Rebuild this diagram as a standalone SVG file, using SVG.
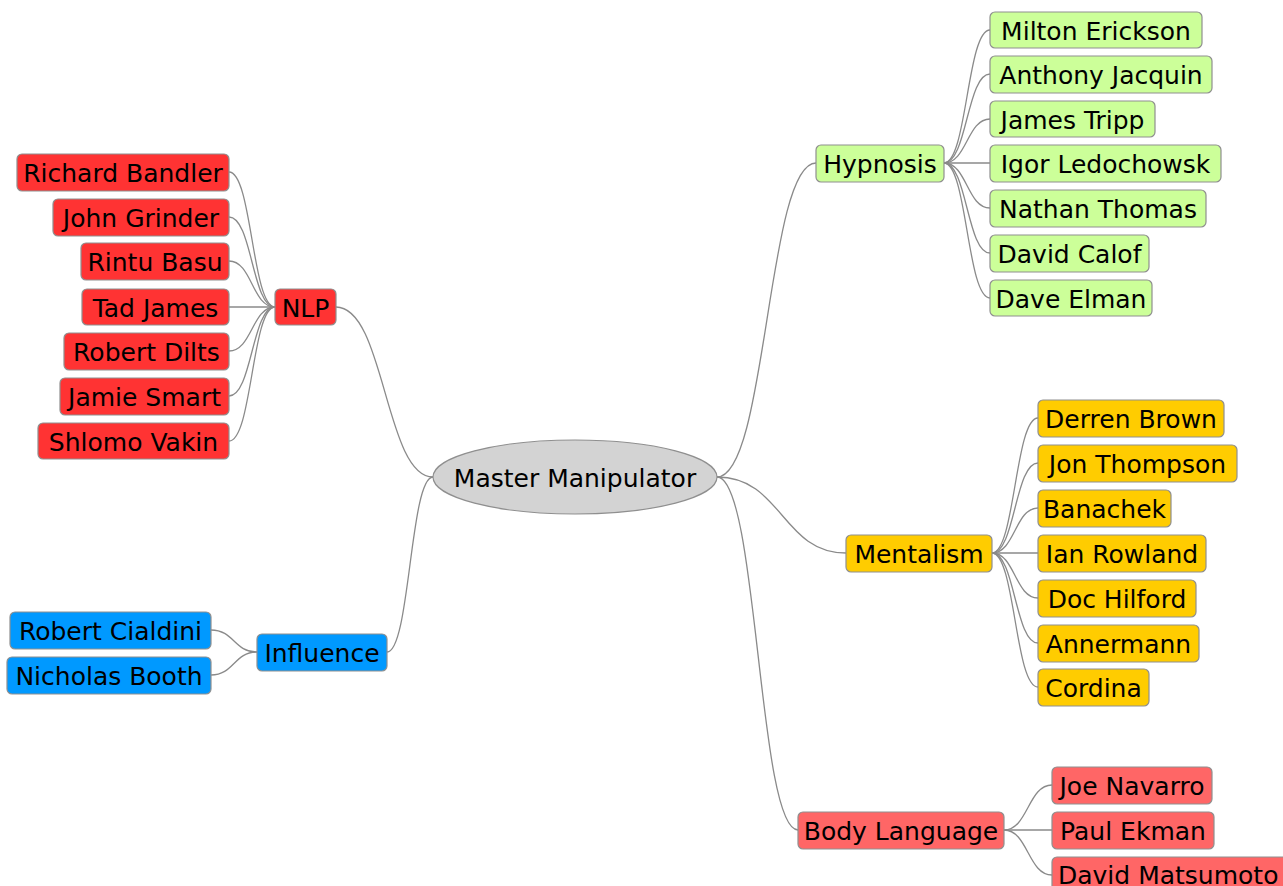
<svg xmlns="http://www.w3.org/2000/svg" width="1283" height="886" viewBox="0 0 1283 886">
<style>
.n rect{stroke:#8f8f8f;stroke-width:1.2}
text{font-family:"DejaVu Sans","Liberation Sans",sans-serif;font-size:25px;fill:#000;text-anchor:middle}
.c path{fill:none;stroke:#8a8a8a;stroke-width:1.3}
.red rect{fill:#ff3333}
.grn rect{fill:#ccff99}
.yel rect{fill:#ffcc00}
.blu rect{fill:#0099ff}
.pnk rect{fill:#ff6666}
</style>
<rect x="0" y="0" width="1283" height="886" fill="#ffffff"/>
<g class="c" id="connectors">
<path d="M717,477 C767,477 767,163 816,163"/>
<path d="M717,477 C782,477 782,553 846,553"/>
<path d="M717,477 C758,477 758,830 798,830"/>
<path d="M433,477 C385,477 385,307 336,307"/>
<path d="M433,477 C410,477 410,652 387,652"/>
<path d="M944,163 C967,163 967,30 990,30"/>
<path d="M944,163 C967,163 967,74 990,74"/>
<path d="M944,163 C967,163 967,119 990,119"/>
<path d="M944,163 L990,163"/>
<path d="M944,163 C967,163 967,208 990,208"/>
<path d="M944,163 C967,163 967,253 990,253"/>
<path d="M944,163 C967,163 967,298 990,298"/>
<path d="M992,553 C1015,553 1015,418 1038,418"/>
<path d="M992,553 C1015,553 1015,463 1038,463"/>
<path d="M992,553 C1015,553 1015,508 1038,508"/>
<path d="M992,553 L1038,553"/>
<path d="M992,553 C1015,553 1015,598 1038,598"/>
<path d="M992,553 C1015,553 1015,643 1038,643"/>
<path d="M992,553 C1015,553 1015,687 1038,687"/>
<path d="M1004,830 C1028,830 1028,785 1052,785"/>
<path d="M1004,830 L1052,830"/>
<path d="M1004,830 C1028,830 1028,875 1052,875"/>
<path d="M275,307 C252,307 252,172 229,172"/>
<path d="M275,307 C252,307 252,217 229,217"/>
<path d="M275,307 C252,307 252,261 229,261"/>
<path d="M275,307 L229,307"/>
<path d="M275,307 C252,307 252,351 229,351"/>
<path d="M275,307 C252,307 252,396 229,396"/>
<path d="M275,307 C252,307 252,441 229,441"/>
<path d="M257,652 C234,652 234,630 211,630"/>
<path d="M257,652 C234,652 234,675 211,675"/>
</g>
<g id="master"><ellipse cx="575" cy="477" rx="142" ry="37" fill="#d3d3d3" stroke="#8f8f8f" stroke-width="1.2"/><text x="575" y="487">Master Manipulator</text></g>

<g id="nlp" class="n red"><rect x="275" y="289" width="61" height="36" rx="5"/><text x="305.5" y="317">NLP</text></g>
<g id="bandler" class="n red"><rect x="17" y="154" width="212" height="37" rx="5"/><text x="123" y="182">Richard Bandler</text></g>
<g id="grinder" class="n red"><rect x="53" y="199" width="176" height="37" rx="5"/><text x="141" y="227">John Grinder</text></g>
<g id="basu" class="n red"><rect x="81" y="243" width="148" height="37" rx="5"/><text x="155" y="271">Rintu Basu</text></g>
<g id="tadjames" class="n red"><rect x="82" y="289" width="147" height="36" rx="5"/><text x="155.5" y="317">Tad James</text></g>
<g id="dilts" class="n red"><rect x="64" y="333" width="165" height="37" rx="5"/><text x="146.5" y="361">Robert Dilts</text></g>
<g id="smart" class="n red"><rect x="60" y="378" width="169" height="37" rx="5"/><text x="144.5" y="406">Jamie Smart</text></g>
<g id="vakin" class="n red"><rect x="38" y="423" width="191" height="36" rx="5"/><text x="133.5" y="451">Shlomo Vakin</text></g>

<g id="influence" class="n blu"><rect x="257" y="634" width="130" height="37" rx="5"/><text x="322" y="662">Influence</text></g>
<g id="cialdini" class="n blu"><rect x="10" y="612" width="201" height="37" rx="5"/><text x="110.5" y="640">Robert Cialdini</text></g>
<g id="booth" class="n blu"><rect x="7" y="657" width="204" height="37" rx="5"/><text x="109" y="685">Nicholas Booth</text></g>

<g id="hypnosis" class="n grn"><rect x="816" y="145" width="128" height="37" rx="5"/><text x="880" y="173">Hypnosis</text></g>
<g id="erickson" class="n grn"><rect x="990" y="12" width="212" height="36" rx="5"/><text x="1096" y="40">Milton Erickson</text></g>
<g id="jacquin" class="n grn"><rect x="990" y="56" width="222" height="37" rx="5"/><text x="1101" y="84">Anthony Jacquin</text></g>
<g id="tripp" class="n grn"><rect x="990" y="101" width="165" height="36" rx="5"/><text x="1072.5" y="129">James Tripp</text></g>
<g id="igor" class="n grn"><rect x="990" y="145" width="231" height="37" rx="5"/><text x="1105.5" y="173">Igor Ledochowsk</text></g>
<g id="nathan" class="n grn"><rect x="990" y="190" width="216" height="37" rx="5"/><text x="1098" y="218">Nathan Thomas</text></g>
<g id="calof" class="n grn"><rect x="990" y="235" width="159" height="37" rx="5"/><text x="1069.5" y="263">David Calof</text></g>
<g id="elman" class="n grn"><rect x="990" y="280" width="162" height="36" rx="5"/><text x="1071" y="308">Dave Elman</text></g>

<g id="mentalism" class="n yel"><rect x="846" y="535" width="146" height="37" rx="5"/><text x="919" y="563">Mentalism</text></g>
<g id="derren" class="n yel"><rect x="1038" y="400" width="186" height="37" rx="5"/><text x="1131" y="428">Derren Brown</text></g>
<g id="jon" class="n yel"><rect x="1038" y="445" width="199" height="37" rx="5"/><text x="1137.5" y="473">Jon Thompson</text></g>
<g id="banachek" class="n yel"><rect x="1038" y="490" width="133" height="37" rx="5"/><text x="1104.5" y="518">Banachek</text></g>
<g id="rowland" class="n yel"><rect x="1038" y="535" width="168" height="37" rx="5"/><text x="1122" y="563">Ian Rowland</text></g>
<g id="hilford" class="n yel"><rect x="1038" y="580" width="158" height="37" rx="5"/><text x="1117" y="608">Doc Hilford</text></g>
<g id="annermann" class="n yel"><rect x="1038" y="625" width="161" height="37" rx="5"/><text x="1118.5" y="653">Annermann</text></g>
<g id="cordina" class="n yel"><rect x="1038" y="669" width="111" height="37" rx="5"/><text x="1093.5" y="697">Cordina</text></g>

<g id="body" class="n pnk"><rect x="798" y="812" width="206" height="37" rx="5"/><text x="901" y="840">Body Language</text></g>
<g id="navarro" class="n pnk"><rect x="1052" y="767" width="160" height="37" rx="5"/><text x="1132" y="795">Joe Navarro</text></g>
<g id="ekman" class="n pnk"><rect x="1052" y="812" width="162" height="37" rx="5"/><text x="1133" y="840">Paul Ekman</text></g>
<g id="matsumoto" class="n pnk"><rect x="1052" y="857" width="250" height="40" rx="5"/><text x="1058" y="884" style="text-anchor:start">David Matsumoto</text></g>
</svg>
